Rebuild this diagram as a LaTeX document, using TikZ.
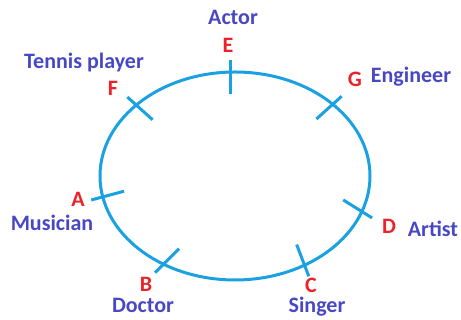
\documentclass[tikz,border=0pt]{standalone}
\usepackage{fontspec}
\setmainfont{Carlito}
\usetikzlibrary{positioning}

\definecolor{ringblue}{RGB}{27,161,226}
\definecolor{namecol}{RGB}{72,72,196}
\definecolor{lettercol}{RGB}{236,34,40}

\begin{document}
\begin{tikzpicture}[
  x=1pt, y=1pt,
  font=\fontsize{22}{24}\selectfont\bfseries,
  ring/.style={draw=ringblue, line width=3pt},
  tick/.style={draw=ringblue, line width=3pt},
  seat/.style={text=lettercol, inner sep=0pt, anchor=base},
  job/.style={text=namecol, inner sep=0pt, anchor=base}
]
\useasboundingbox (0,0) rectangle (461,320);

\draw[ring] (235,144) ellipse [x radius=135, y radius=104];

% seat marks: name / angle on ring / outward direction
\foreach \n/\t/\d in {E/92/90, F/137/138, G/43.6/42, A/191.6/195,
                      B/238/225, C/301/291, D/340/328}{
  \coordinate (p\n) at ({235+135*cos(\t)},{144+104*sin(\t)});
  \draw[tick] (p\n) ++(\d:12) -- ++(\d+180:34);
}

\node[seat] (E) at (228,267) {E};
\node[seat] (F) at (113,224) {F};
\node[seat] (G) at (355,233) {G};
\node[seat] (A) at (78,113)  {A};
\node[seat] (B) at (146,28)  {B};
\node[seat] (C) at (311,27)  {C};
\node[seat] (D) at (389,86)  {D};

\node[job] (actor)    at (233,295) {Actor};
\node[job] (tennis)   at (84,251)  {Tennis player};
\node[job] (engineer) at (411,237) {Engineer};
\node[job] (musician) at (52,89)   {Musician};
\node[job] (doctor)   at (143,7)   {Doctor};
\node[job] (singer)   at (317,7)   {Singer};
\node[job] (artist)   at (433,83)  {Artist};
\end{tikzpicture}
\end{document}
